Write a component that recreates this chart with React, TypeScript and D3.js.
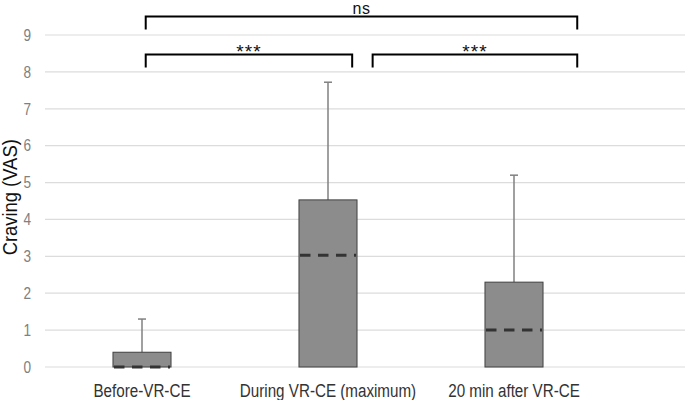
import React from "react";
import * as d3 from "d3";

const categories = ["Before-VR-CE", "During VR-CE (maximum)", "20 min after VR-CE"];
const boxTop = [0.4, 4.53, 2.3];
const medians = [0, 3.03, 1.0];
const whiskerTop = [1.3, 7.72, 5.2];
const yTicks = [0, 1, 2, 3, 4, 5, 6, 7, 8, 9];
// bracket ends in category-index units (0 = first category centre)
const comparisons = [
  { from: 0.02, to: 2.34, label: "ns", level: 2 },
  { from: 0.02, to: 1.13, label: "***", level: 1 },
  { from: 1.24, to: 2.34, label: "***", level: 1 },
];

const W = 685;
const H = 400;

export default function App() {
  const x = d3.scaleBand<string>().domain(categories).range([49, 607]).paddingInner(0.688).paddingOuter(0.344);
  const y = d3.scaleLinear().domain([0, 9]).range([367, 35]);
  const bw = x.bandwidth();
  const cx = (i: number) => (x(categories[i]) as number) + bw / 2;
  const idx = d3.scaleLinear().domain([0, 1]).range([cx(0), cx(1)]);
  const bracketY = (level: number) => (level === 2 ? 16.5 : 54.5);
  const font = "'Liberation Sans', Arial, sans-serif";

  return (
    <svg width={W} height={H} style={{ position: "absolute", left: 0, top: 0 }} fontFamily={font}>
      <rect width={W} height={H} fill="#fff" />
      {yTicks.map((t) => (
        <g key={t}>
          <line x1={45} x2={W} y1={y(t)} y2={y(t)} stroke="#dcdcdc" strokeWidth={1.2} />
          <text
            transform={`translate(31,${y(t)}) scale(0.85,1)`}
            dy="0.36em"
            textAnchor="end"
            fontSize={16}
            fill="#808080"
          >
            {t}
          </text>
        </g>
      ))}
      <text
        transform={`translate(17,${y(4.6)}) rotate(-90) scale(0.92,1)`}
        textAnchor="middle"
        fontSize={20}
        fill="#111"
      >
        Craving (VAS)
      </text>
      {categories.map((c, i) => {
        const x0 = x(c) as number;
        return (
          <g key={c}>
            <line x1={cx(i)} x2={cx(i)} y1={y(boxTop[i])} y2={y(whiskerTop[i])} stroke="#808080" strokeWidth={1.5} />
            <line x1={cx(i) - 4} x2={cx(i) + 4} y1={y(whiskerTop[i])} y2={y(whiskerTop[i])} stroke="#808080" strokeWidth={1.5} />
            <rect x={x0} y={y(boxTop[i])} width={bw} height={y(0) - y(boxTop[i])} fill="#8c8c8c" stroke="#404040" strokeWidth={1} />
            <line
              x1={x0 + 1}
              x2={x0 + bw - 1}
              y1={y(medians[i])}
              y2={y(medians[i])}
              stroke="#333"
              strokeWidth={3}
              strokeDasharray="10.5 7.5"
            />
            <text
              transform={`translate(${cx(i)},397) scale(0.8,1)`}
              textAnchor="middle"
              fontSize={19}
              fill="#333"
            >
              {c}
            </text>
          </g>
        );
      })}
      {comparisons.map((cmp, k) => {
        const by = bracketY(cmp.level);
        const xa = idx(cmp.from);
        const xb = idx(cmp.to);
        const isNs = cmp.label === "ns";
        return (
          <g key={k}>
            <path d={`M${xa},${by + 13}V${by}H${xb}V${by + 13}`} fill="none" stroke="#000" strokeWidth={2} />
            <text
              x={(xa + xb) / 2}
              y={isNs ? by - 2.5 : by + 3}
              textAnchor="middle"
              fontSize={isNs ? 16 : 19}
              letterSpacing={isNs ? 0.5 : 1}
              fill="#111"
            >
              {cmp.label}
            </text>
          </g>
        );
      })}
    </svg>
  );
}
